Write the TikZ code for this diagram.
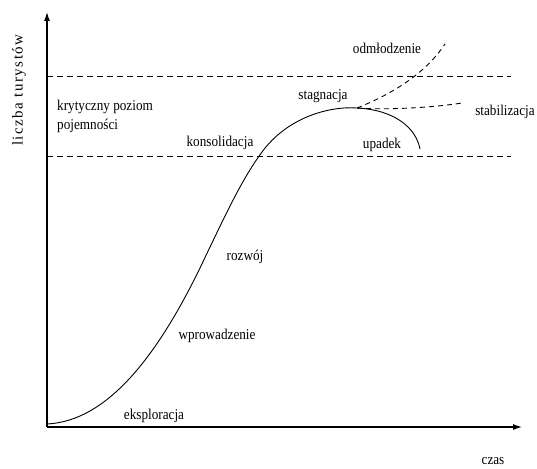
\documentclass[tikz,border=0pt]{standalone}
\usepackage{fontspec}
\setmainfont[FakeStretch=0.88]{Liberation Serif}
\newfontfamily\axisfont[LetterSpace=10]{Liberation Serif}
\usetikzlibrary{arrows.meta}
\tikzset{
  lbl/.style={font=\fontsize{15}{17}\selectfont, inner sep=0pt},
  axisline/.style={line width=1.2pt, -{Latex[length=9pt,width=6pt]}},
  limit/.style={line width=0.8pt, dash pattern=on 6pt off 4pt},
  trend/.style={line width=0.9pt},
  branch/.style={line width=0.9pt, dash pattern=on 5pt off 4pt},
}
\begin{document}
\begin{tikzpicture}[x=1pt,y=-1pt]
\useasboundingbox (0,0) rectangle (537,468);
% axes
\coordinate (O) at (47,427);
\coordinate (ytop) at (47,12);
\coordinate (xend) at (522,427);
\draw[axisline] (O) -- (ytop);
\draw[axisline] (O) -- (xend);
% capacity limits
\coordinate (u1) at (47,76.5);
\coordinate (u2) at (511,76.5);
\coordinate (l1) at (47,156);
\coordinate (l2) at (511,156);
\draw[limit] (u1) -- (u2);
\draw[limit] (l1) -- (l2);
% life cycle curve
\coordinate (start) at (47,424);
\coordinate (mid) at (200,268);
\coordinate (cross) at (262,152);
\coordinate (peak) at (357,108);
\coordinate (fin) at (420,149);
\draw[trend] (start) .. controls (110,421) and (160,350) .. (mid)
  .. controls (230,205) and (243,178) .. (cross)
  .. controls (287,118) and (328,106) .. (peak)
  .. controls (395,110) and (416,128) .. (fin);
% branches after stagnation
\coordinate (rej) at (445,44);
\coordinate (stab) at (462,103);
\draw[branch] (peak) .. controls (392,94) and (425,74) .. (rej);
\draw[branch] (peak) .. controls (385,110) and (430,108) .. (stab);
% labels
\node[lbl, rotate=90, font=\fontsize{15}{17}\selectfont\axisfont] (ylab) at (19,90) {liczba turystów};
\node[lbl] (czas) at (493,461) {czas};
\node[lbl, align=left, anchor=north west] (krit) at (57,100) {krytyczny poziom\\[2pt]pojemności};
\node[lbl] (kons) at (220,143) {konsolidacja};
\node[lbl] (stag) at (323,96) {stagnacja};
\node[lbl] (odm) at (387,48) {odmłodzenie};
\node[lbl] (stb) at (505,112) {stabilizacja};
\node[lbl] (upa) at (382,145) {upadek};
\node[lbl] (roz) at (245,257) {rozwój};
\node[lbl] (wpr) at (217,336) {wprowadzenie};
\node[lbl] (eks) at (154,416) {eksploracja};
\end{tikzpicture}
\end{document}
